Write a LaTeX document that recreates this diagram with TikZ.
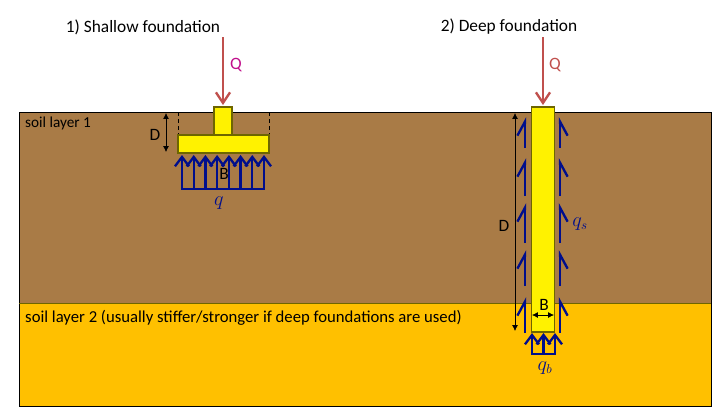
\documentclass[tikz,border=0pt]{standalone}
\usepackage{fontspec}
\setmainfont{Carlito}
\usepackage{xcolor}
\usetikzlibrary{arrows.meta}
\definecolor{soilbrown}{HTML}{A97B46}
\definecolor{soilyellow}{HTML}{FFC000}
\definecolor{loadred}{HTML}{C0504D}
\definecolor{loadpink}{HTML}{C00F8B}
\definecolor{stressblue}{HTML}{000E8C}
\definecolor{concedge}{HTML}{6E6600}
\tikzset{
    conc/.style={fill=yellow, draw=concedge, line width=0.9pt},
    loadarrow/.style={-{Straight Barb[length=9pt,width=12pt,line width=2pt]}, loadred, line width=2pt},
    stressarrow/.style={-{Straight Barb[length=8pt,width=12pt,line width=2pt]}, stressblue, line width=2pt},
    leftbarb/.style={-{Straight Barb[harpoon,length=12pt,width=13pt,line width=2pt]}, stressblue, line width=2pt},
    rightbarb/.style={-{Straight Barb[harpoon,swap,length=12pt,width=13pt,line width=2pt]}, stressblue, line width=2pt},
    dimarrow/.style={{Latex[length=5pt,width=5pt]}-{Latex[length=5pt,width=5pt]}, line width=0.6pt},
    lab/.style={font=\fontsize{14.8pt}{17pt}\selectfont, inner sep=0pt},
    stresslab/.style={text=stressblue, inner sep=0pt, font=\fontsize{16pt}{18pt}\selectfont}
}
\begin{document}
\begin{tikzpicture}[x=0.03cm, y=-0.03cm]
    \useasboundingbox (0, 0) rectangle (716, 410);

    % Soil layers
    \fill [soilbrown] (19, 112) rectangle (711, 303);
    \fill [soilyellow] (19, 303) rectangle (711, 406);
    \draw [line width=0.7pt] (19, 303) -- (19, 406) -- (711, 406) -- (711, 303);
    \draw [line width=0.7pt] (19, 303) -- (19, 112) -- (711, 112) -- (711, 303);
    \draw [line width=0.4pt, concedge] (19, 303) -- (711, 303);
    \node [lab, anchor=west, font=\fontsize{13pt}{15pt}\selectfont] (layerone) at (25, 123.5) {soil layer 1};
    \node [lab, anchor=west, font=\fontsize{14.25pt}{16pt}\selectfont] (layertwo) at (25, 317.5) {soil layer 2 (usually stiffer/stronger if deep foundations are used)};

    % Shallow foundation
    \node [lab] (shallow) at (143, 27) {1) Shallow foundation};
    \draw [dashed, line width=0.6pt] (178, 112) -- (178, 135);
    \draw [dashed, line width=0.6pt] (269, 112) -- (269, 135);
    \draw [conc] (214, 135) -- (214, 107) -- (232, 107) -- (232, 135);
    \draw [conc] (178, 135) rectangle (269, 153);
    \draw [dimarrow] (166, 113) -- (166, 152);
    \node [lab] (shallowD) at (155, 134.5) {D};
    \node [lab] (shallowB) at (224, 173.5) {B};
    \foreach \x in {182, 193.7, 205.4, 217.1, 228.9, 240.6, 252.3, 264}
        \draw [stressarrow] (\x, 189) -- (\x, 155);
    \draw [stressblue, line width=2pt] (181, 189) -- (265, 189);
    \node [stresslab] (shallowq) at (219, 203) {$q$};
    \draw [loadarrow] (223, 37) -- (223, 105);
    \node [lab, text=loadpink] (shallowQ) at (236, 65) {Q};

    % Deep foundation
    \node [lab] (deep) at (509, 27) {2) Deep foundation};
    \draw [conc] (531.5, 107) rectangle (554.5, 332);
    \draw [dimarrow] (515, 113) -- (515, 331);
    \node [lab] (deepD) at (504, 226) {D};
    \node [lab] (deepB) at (544, 304.5) {B};
    \draw [dimarrow] (532, 315) -- (554, 315);
    \foreach \ya/\yb in {148/117, 196/158, 243/203, 286/250, 333/297} {
        \draw [leftbarb] (525, \ya) -- (525, \yb);
        \draw [rightbarb] (560, \ya) -- (560, \yb);
    }
    \foreach \x in {532, 543.5, 555}
        \draw [stressarrow] (\x, 354) -- (\x, 333);
    \draw [stressblue, line width=2pt] (531, 354) -- (556, 354);
    \node [stresslab] (deepqs) at (580, 224) {$q_s$};
    \node [stresslab] (deepqb) at (545, 368) {$q_b$};
    \draw [loadarrow] (543, 37) -- (543, 105);
    \node [lab, text=loadred] (deepQ) at (555, 65) {Q};
\end{tikzpicture}
\end{document}
